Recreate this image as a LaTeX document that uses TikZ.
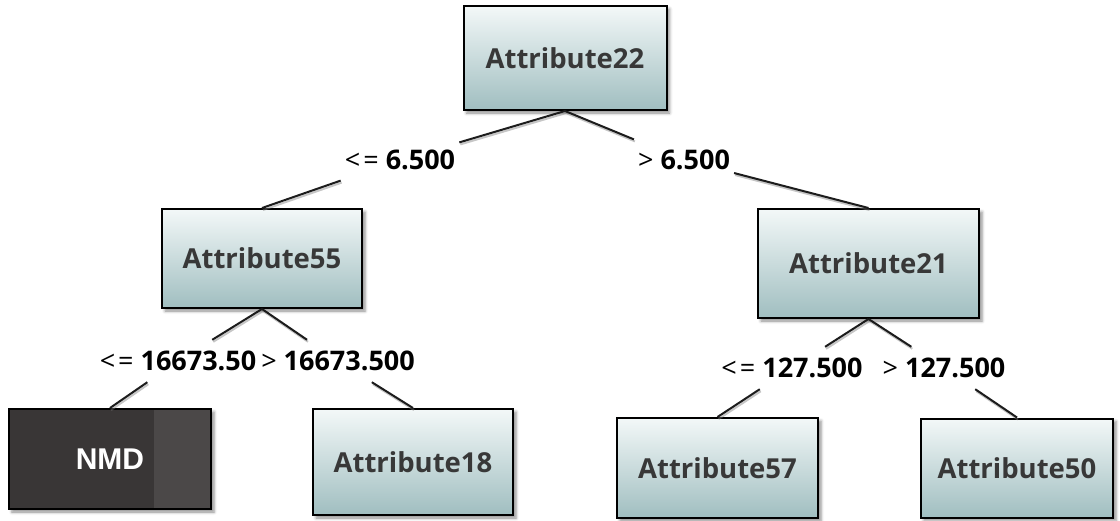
\documentclass[tikz,border=0pt]{standalone}
\usepackage{fontspec}
\setmainfont{Open Sans}
\newfontfamily\arialfont{Liberation Sans}
\usepackage{tikz}
\usetikzlibrary{shadows.blur}

\definecolor{boxtop}{HTML}{F3F8F8}
\definecolor{boxbottom}{HTML}{A0BEC0}
\definecolor{leafdark}{HTML}{393636}
\definecolor{leaflight}{HTML}{4B4848}
\definecolor{nodetext}{HTML}{383838}
\definecolor{edgeline}{HTML}{1C1C1C}

\begin{document}
\begin{tikzpicture}[x=1pt, y=-1pt,
	attr/.style={draw=black, line width=2pt, top color=boxtop, bottom color=boxbottom,
		text=nodetext, font=\fontsize{27.5}{32}\selectfont\bfseries, inner sep=0pt,
		blur shadow={shadow xshift=3pt, shadow yshift=-3pt, shadow blur radius=3pt, shadow opacity=45}},
	leaf/.style={draw=black, line width=2pt, fill=leafdark, text=white,
		font=\fontsize{30}{34}\selectfont\arialfont\bfseries, inner sep=0pt,
		blur shadow={shadow xshift=3pt, shadow yshift=-3pt, shadow blur radius=3pt, shadow opacity=45}},
	cond/.style={font=\fontsize{27}{32}\selectfont, text=black, inner xsep=4pt, minimum height=42pt},
	edge/.style={draw=edgeline, line width=2pt,
		preaction={draw=gray, draw opacity=0.45, line width=2pt, transform canvas={shift={(1pt,-2pt)}}}}]
	\useasboundingbox (0,0) rectangle (1120,520);

	% Split nodes
	\node [attr, minimum width=203pt, minimum height=104pt] (a22) at (565,58) {Attribute22};
	\node [attr, minimum width=200pt, minimum height=99pt] (a55) at (262,258.5) {Attribute55};
	\node [attr, minimum width=221pt, minimum height=109pt] (a21) at (868.5,263.5) {Attribute21};

	% Leaves
	\node [leaf, minimum width=202pt, minimum height=100pt,
		path picture={\fill[leaflight] ([xshift=-57pt]path picture bounding box.north east) rectangle (path picture bounding box.south east);}]
		(nmd) at (110,459) {NMD};
	\node [attr, minimum width=200pt, minimum height=106pt] (a18) at (413,462) {Attribute18};
	\node [attr, minimum width=201pt, minimum height=100pt] (a57) at (717.5,468) {Attribute57};
	\node [attr, minimum width=192pt, minimum height=99pt] (a50) at (1017,468) {Attribute50};

	% Split conditions
	\node [cond] (c1) at (400,160) {<\kern3pt= \textbf{6.500}};
	\node [cond] (c2) at (684,160) {> \textbf{6.500}};
	\node [cond] (c3) at (178,361) {<\kern3pt= \textbf{16673.50}};
	\node [cond] (c4) at (338,361) {> \textbf{16673.500}};
	\node [cond] (c5) at (792,368) {<\kern3pt= \textbf{127.500}};
	\node [cond] (c6) at (944,368) {> \textbf{127.500}};

	% Branches
	\draw [edge] (a22.south) -- (c1) -- (a55.north);
	\draw [edge] (a22.south) -- (c2) -- (a21.north);
	\draw [edge] (a55.south) -- (c3) -- (nmd.north);
	\draw [edge] (a55.south) -- (c4) -- (a18.north);
	\draw [edge] (a21.south) -- (c5) -- (a57.north);
	\draw [edge] (a21.south) -- (c6) -- (a50.north);
\end{tikzpicture}
\end{document}
